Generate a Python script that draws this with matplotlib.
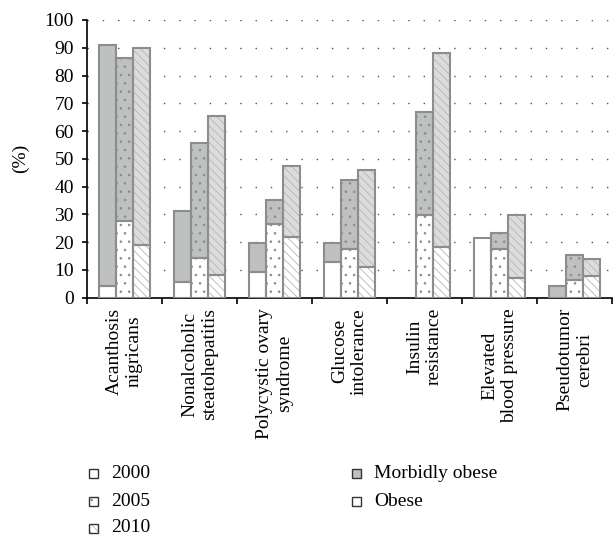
import numpy as np
import matplotlib
matplotlib.use('Agg')
import matplotlib.pyplot as plt
from matplotlib.patches import Rectangle

plt.rcParams['font.family'] = ['Liberation Serif', 'DejaVu Serif']
plt.rcParams['hatch.linewidth'] = 0.6

# Donnees (%)
categories = ['Acanthosis\nnigricans', 'Nonalcoholic\nsteatohepatitis', 'Polycystic ovary\nsyndrome',
              'Glucose\nintolerance', 'Insulin\nresistance', 'Elevated\nblood pressure', 'Pseudotumor\ncerebri']
years = ['2000', '2005', '2010']
# part "Obese" (bas de la barre)
obese_2000 = [4.2, 5.8, 9.4, 13.0, 0.0, 21.4, 0.0]
obese_2005 = [27.7, 14.4, 26.4, 17.5, 29.8, 17.5, 6.4]
obese_2010 = [19.0, 8.1, 22.0, 10.9, 18.4, 7.2, 7.9]
# total (obese + morbidly obese)
total_2000 = [90.9, 31.2, 19.8, 19.7, 0.0, 21.4, 4.2]
total_2005 = [86.2, 55.6, 35.2, 42.3, 66.8, 23.4, 15.5]
total_2010 = [89.8, 65.4, 47.4, 45.9, 88.0, 29.8, 13.9]

obese = [obese_2000, obese_2005, obese_2010]
total = [total_2000, total_2005, total_2010]

morbid_col = ['#bfc1c0', '#bfc1c0', '#dcdcdc']
hatches = [None, '..', '\\\\\\\\']
hatch_col = ['#888888', '#8a8a8a', '#b5b5b5']
edge = '#8c8e8e'
fs = 14

W, H = 616, 540
fig = plt.figure(figsize=(W / 100, H / 100), dpi=100)
ax = fig.add_axes([87/W, 242.3/H, 525/W, 277.7/H])

x = np.arange(len(categories))
w = 0.227
for k in range(3):
    ob = np.array(obese[k])
    tot = np.array(total[k])
    mo = tot - ob
    xs = x + (k - 1) * w
    # remplissage
    ax.bar(xs, ob, w, color='white', edgecolor=hatch_col[k], hatch=hatches[k], linewidth=0, zorder=2)
    ax.bar(xs, mo, w, bottom=ob, color=morbid_col[k], edgecolor=hatch_col[k], hatch=hatches[k], linewidth=0, zorder=2)
    # contours
    for i in range(len(categories)):
        if ob[i] > 0:
            ax.bar(xs[i], ob[i], w, fill=False, edgecolor=edge, linewidth=1.5, zorder=3)
        if mo[i] > 0:
            ax.bar(xs[i], mo[i], w, bottom=ob[i], fill=False, edgecolor=edge, linewidth=1.5, zorder=3)

ax.set_xlim(-0.5, len(categories) - 0.5)
ax.set_ylim(0, 100)
ax.set_yticks(np.arange(0, 101, 10))
ax.yaxis.grid(True, linestyle=(0, (1, 10)), color='#555555', linewidth=1.0)
ax.set_axisbelow(True)
for s in ['top', 'right']:
    ax.spines[s].set_visible(False)
ax.spines['left'].set_linewidth(1.2)
ax.spines['bottom'].set_linewidth(1.2)

ax.set_xticks(x)
ax.set_xticklabels(categories, rotation=90, ha='center', va='top', multialignment='center', fontsize=fs)
ax.tick_params(axis='x', which='major', length=0, pad=7.5)
ax.set_xticks(np.arange(-0.5, len(categories), 1.0), minor=True)
ax.tick_params(axis='x', which='minor', length=4, width=1.2)
ax.tick_params(axis='y', length=3.5, width=1.2, labelsize=fs, pad=6)
ax.set_ylabel('(%)', fontsize=fs, labelpad=11)

# legendes (dessinees a la main, en pixels)
def legend_item(px, py, label, face, hatch=None, hcol='#888888'):
    s = 9
    fig.add_artist(Rectangle((px / W, 1 - (py + s / 2) / H), s / W, s / H, transform=fig.transFigure,
                             facecolor=face, edgecolor=hcol, hatch=hatch, linewidth=0))
    fig.add_artist(Rectangle((px / W, 1 - (py + s / 2) / H), s / W, s / H, transform=fig.transFigure,
                             fill=False, edgecolor='#333333', linewidth=1.0))
    fig.text((px + 22) / W, 1 - py / H, label, fontsize=fs, va='center', ha='left')

rows = [473, 501, 528]
for k in range(3):
    legend_item(89, rows[k], years[k], 'white', hatches[k], hatch_col[k])
legend_item(352, rows[0], 'Morbidly obese', '#bfc1c0')
legend_item(352, rows[1], 'Obese', 'white')

fig.savefig('out.png', dpi=100)
